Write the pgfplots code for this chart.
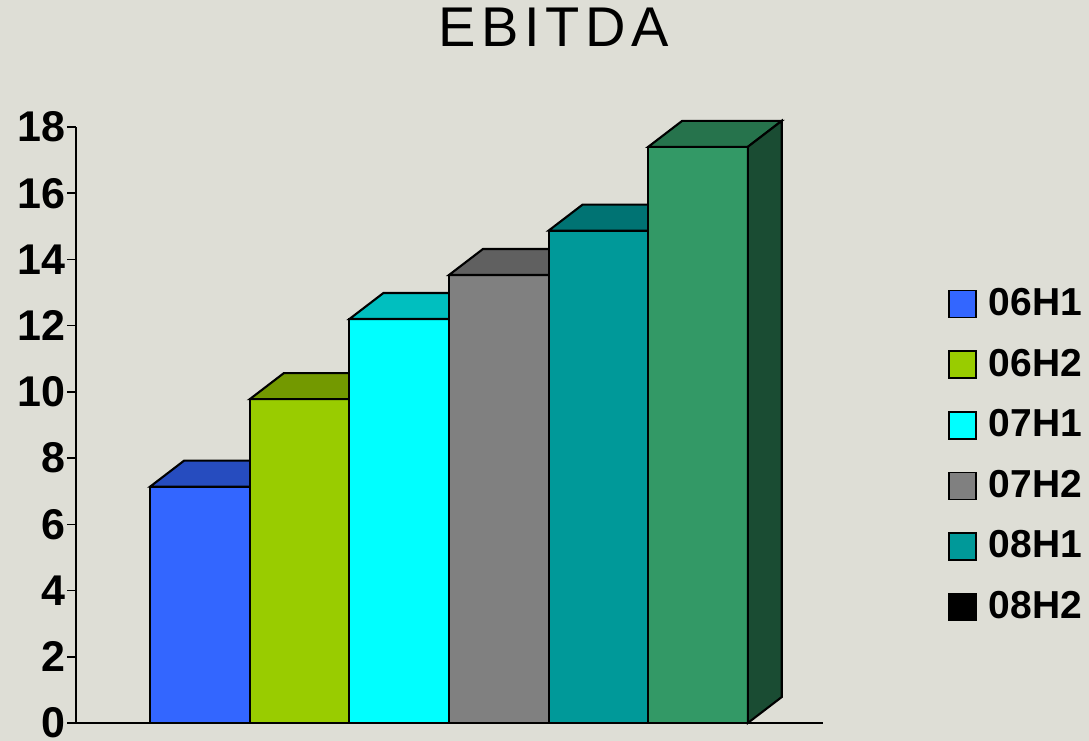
\documentclass[border=0pt]{standalone}
\usepackage{fontspec}
\setmainfont{Liberation Sans}
\usepackage{pgfplots}
\pgfplotsset{compat=1.18}

\definecolor{bg}{RGB}{222,222,214}
\definecolor{c1}{HTML}{3366FF}\definecolor{c1t}{HTML}{264CBF}
\definecolor{c2}{HTML}{99CC00}\definecolor{c2t}{HTML}{739900}
\definecolor{c3}{HTML}{00FFFF}\definecolor{c3t}{HTML}{00BFBF}
\definecolor{c4}{HTML}{808080}\definecolor{c4t}{HTML}{606060}
\definecolor{c5}{HTML}{009999}\definecolor{c5t}{HTML}{007373}
\definecolor{c6}{HTML}{339966}\definecolor{c6t}{HTML}{26734C}\definecolor{c6s}{HTML}{1A4C33}

\begin{document}
\begin{tikzpicture}
\fill[bg] (0,0) rectangle (1089pt,741pt);
\begin{axis}[
    scale only axis,
    width=747pt, height=596pt,
    at={(76pt,18pt)}, anchor=south west,
    clip=false,
    xmin=-1.245, xmax=6.255,
    ymin=0, ymax=18,
    axis x line=bottom, axis y line=left,
    axis line style={-, line width=2.5pt},
    xtick=\empty,
    ytick={0,2,...,18},
    tick align=outside,
    major tick length=9pt,
    every tick/.style={black, line width=1.5pt},
    /pgf/number format/assume math mode=true,
    yticklabel style={font=\fontsize{43}{43}\selectfont\bfseries, inner sep=1.5pt},
    title={\addfontfeature{LetterSpace=10}EBITDA},
    title style={at={(0.64,1.158)}, anchor=center, inner sep=0pt,
        font=\fontsize{56}{56}\selectfont},
    legend style={at={(1.1673,0.45)}, anchor=west, draw=none, fill=none,
        inner sep=0pt, row sep=30.5pt,
        font=\fontsize{39}{39}\selectfont\bfseries,
        nodes={inner sep=0pt},
        /tikz/every odd column/.append style={column sep=12pt}},
    legend cell align=left,
    legend image code/.code={\draw[#1, line width=1.5pt] (0pt,-15pt) rectangle (27pt,12pt);},
    every axis plot/.append style={draw=black, line width=2.1pt},
]
% front faces and 3D tops
\addplot[ybar, bar width=1, bar shift=0pt, fill=c1, forget plot] coordinates {(0,7.14)};
\addplot[fill=c1t, forget plot] coordinates {(-0.5,7.14) (0.5,7.14) (0.841,7.925) (-0.159,7.925)} -- cycle;
\addplot[ybar, bar width=1, bar shift=0pt, fill=c2, forget plot] coordinates {(1,9.78)};
\addplot[fill=c2t, forget plot] coordinates {(0.5,9.78) (1.5,9.78) (1.841,10.565) (0.841,10.565)} -- cycle;
\addplot[ybar, bar width=1, bar shift=0pt, fill=c3, forget plot] coordinates {(2,12.2)};
\addplot[fill=c3t, forget plot] coordinates {(1.5,12.2) (2.5,12.2) (2.841,12.985) (1.841,12.985)} -- cycle;
\addplot[ybar, bar width=1, bar shift=0pt, fill=c4, forget plot] coordinates {(3,13.53)};
\addplot[fill=c4t, forget plot] coordinates {(2.5,13.53) (3.5,13.53) (3.841,14.315) (2.841,14.315)} -- cycle;
\addplot[ybar, bar width=1, bar shift=0pt, fill=c5, forget plot] coordinates {(4,14.87)};
\addplot[fill=c5t, forget plot] coordinates {(3.5,14.87) (4.5,14.87) (4.841,15.655) (3.841,15.655)} -- cycle;
\addplot[ybar, bar width=1, bar shift=0pt, fill=c6, forget plot] coordinates {(5,17.4)};
\addplot[fill=c6t, forget plot] coordinates {(4.5,17.4) (5.5,17.4) (5.841,18.185) (4.841,18.185)} -- cycle;
\addplot[fill=c6s, forget plot] coordinates {(5.5,0) (5.841,0.785) (5.841,18.185) (5.5,17.4)} -- cycle;
% legend
\addlegendimage{fill=c1}\addlegendentry{06H1}
\addlegendimage{fill=c2}\addlegendentry{06H2}
\addlegendimage{fill=c3}\addlegendentry{07H1}
\addlegendimage{fill=c4}\addlegendentry{07H2}
\addlegendimage{fill=c5}\addlegendentry{08H1}
\addlegendimage{fill=black}\addlegendentry{08H2}
\end{axis}
\pgfresetboundingbox
\path (0,0) rectangle (1089pt,741pt);
\end{tikzpicture}
\end{document}
